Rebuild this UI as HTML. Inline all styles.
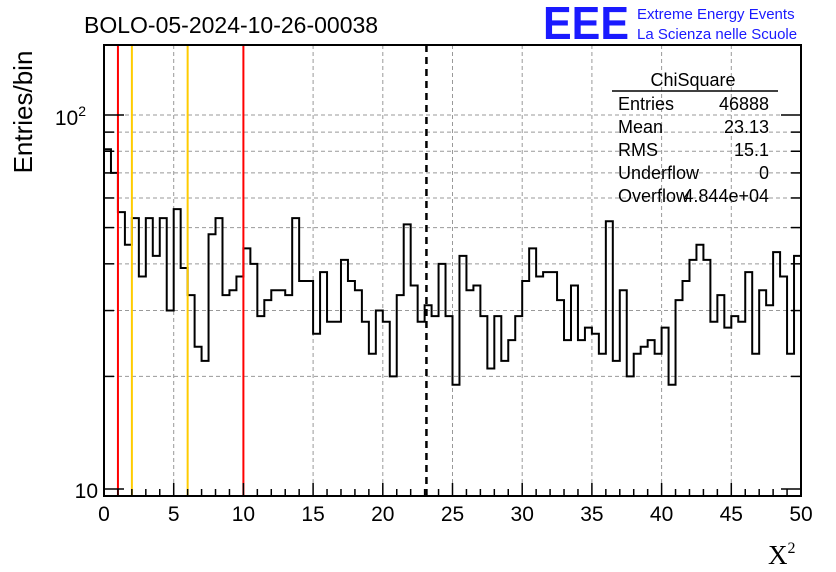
<!DOCTYPE html>
<html><head><meta charset="utf-8"><style>
body{margin:0;background:#fff;}
svg{display:block;font-family:"Liberation Sans",sans-serif;}
</style></head><body>
<svg id="c" width="836" height="572" viewBox="0 0 836 572">
<text x="84" y="33" font-size="23">BOLO-05-2024-10-26-00038</text>
<text x="543" y="39" font-size="46" font-weight="bold" fill="#1a1aff" textLength="86" lengthAdjust="spacingAndGlyphs">EEE</text>
<text x="637" y="19" font-size="15" fill="#1a1aff">Extreme Energy Events</text>
<text x="637" y="39" font-size="15" fill="#1a1aff">La Scienza nelle Scuole</text>
<text transform="translate(32,112) rotate(-90)" text-anchor="middle" font-size="26">Entries/bin</text>
<text x="768" y="564" font-size="27" font-family="Liberation Serif,serif">X<tspan font-size="16" dy="-11">2</tspan></text>
<g id="grid"></g><g id="marks"></g><g id="axes"></g>
<g font-size="18">
<text x="693" y="86" text-anchor="middle">ChiSquare</text>
<line x1="612" y1="91" x2="778" y2="91" stroke="#000" stroke-width="1.5"/>
<text x="618" y="110">Entries</text><text x="769" y="110" text-anchor="end">46888</text>
<text x="618" y="133">Mean</text><text x="769" y="133" text-anchor="end">23.13</text>
<text x="618" y="156">RMS</text><text x="769" y="156" text-anchor="end">15.1</text>
<text x="618" y="179">Underflow</text><text x="769" y="179" text-anchor="end">0</text>
<text x="618" y="202">Overflow</text><text x="769" y="202" text-anchor="end">4.844e+04</text>
</g>
</svg>
<script>
const binLow = 0, binWidth = 0.5;
const counts = [81,70,55,45,53,37,53,42,53,30,56,39,33,24,22,48,53,33,34,37,44,40,29,32,34,34,33,53,36,36,26,38,28,28,41,36,34,28,23,30,28,20,33,51,35,28,31,29,40,29,19,42,34,35,29,21,29,22,25,29,36,44,37,38,38,32,25,35,25,27,26,23,52,22,34,20,23,24,25,23,27,19,32,36,41,45,41,28,33,27,29,28,38,23,34,31,43,37,23,42];
const xTicks = [0,5,10,15,20,25,30,35,40,45,50];
const yMinorTicks = [20,30,40,50,60,70,80,90];
const redLines = [1,10];
const orangeLines = [2,6];
const meanLine = 23.13;

const L=104,R=801,T=45,B=496;
const X=v=>L+(v-0)/50*(R-L);
const Y=v=>489-(Math.log10(v)-1)*374;
const NS='http://www.w3.org/2000/svg';
function mk(p,tag,a){const e=document.createElementNS(NS,tag);for(const k in a)e.setAttribute(k,a[k]);p.appendChild(e);return e;}
const grid=document.getElementById('grid'),marks=document.getElementById('marks'),axes=document.getElementById('axes');
xTicks.forEach(t=>{if(t>0&&t<50){const l=mk(grid,'line',{x1:X(t),x2:X(t),y1:T,y2:B,stroke:'#999','stroke-dasharray':'4,3'});

}});
[...yMinorTicks,100].forEach(t=>{const l=mk(grid,'line',{x1:L,x2:R,y1:Y(t),y2:Y(t),stroke:'#999','stroke-dasharray':'4,3'});

});
let d='M'+L+','+B;
counts.forEach((c,i)=>{const x0=X(binLow+i*binWidth),x1=X(binLow+(i+1)*binWidth);d+=' L'+x0+','+Y(c)+' L'+x1+','+Y(c);});
d+=' L'+R+','+B;
const h=mk(marks,'path',{d:d,fill:'none',stroke:'#000','stroke-width':2});


redLines.forEach(v=>{const l=mk(marks,'line',{x1:X(v),x2:X(v),y1:T,y2:B,stroke:'#ff0000','stroke-width':2});

});
orangeLines.forEach(v=>{const l=mk(marks,'line',{x1:X(v),x2:X(v),y1:T,y2:B,stroke:'#ffcc00','stroke-width':2});

});
const ml=mk(marks,'line',{x1:X(meanLine),x2:X(meanLine),y1:T,y2:B,stroke:'#000','stroke-width':2.5,'stroke-dasharray':'7,5'});


const fr=mk(axes,'rect',{x:L,y:T,width:R-L,height:B-T,fill:'none',stroke:'#000','stroke-width':2});


for(let v=0;v<=50;v+=1){const len=v%5===0?13:7;mk(axes,'line',{x1:X(v),x2:X(v),y1:B,y2:B-len,stroke:'#000','stroke-width':1.5});}
xTicks.forEach(t=>{const tx=mk(axes,'text',{x:X(t),y:521,'text-anchor':'middle','font-size':21});tx.textContent=t;

});
[...yMinorTicks,100].concat([10]).forEach(t=>{const len=(t===10||t===100)?20:10;
mk(axes,'line',{x1:L,x2:L+len,y1:Y(t),y2:Y(t),stroke:'#000','stroke-width':1.5});
mk(axes,'line',{x1:R,x2:R-len,y1:Y(t),y2:Y(t),stroke:'#000','stroke-width':1.5});});
const y1=mk(axes,'text',{x:98,y:498,'text-anchor':'end','font-size':21});y1.textContent='10';


const y2=mk(axes,'text',{x:86,y:125,'text-anchor':'end','font-size':21});y2.innerHTML='10<tspan font-size="14" dy="-9">2</tspan>';


</script>
</body></html>
